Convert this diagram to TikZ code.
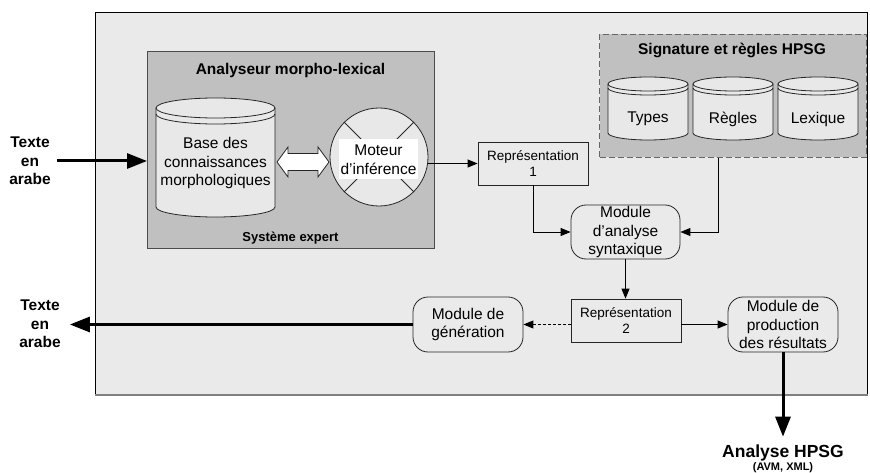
\documentclass[tikz,border=0pt]{standalone}
\usepackage{fontspec}
\setmainfont{Liberation Sans}
\usetikzlibrary{arrows.meta,calc}
\definecolor{bglight}{HTML}{EAEAEA}
\definecolor{boxgray}{HTML}{C0C0C0}
\definecolor{cylfill}{HTML}{E8E8E8}
\newcommand{\dbcyl}[6]{%
  \filldraw[draw=black!85, line width=0.8pt, fill=cylfill] (#1,#3-#5) -- (#1,#4+#5)
    arc[start angle=180,end angle=360,x radius=#2/2-#1/2,y radius=#5] -- (#2,#3-#5)
    arc[start angle=0,end angle=180,x radius=#2/2-#1/2,y radius=#5] -- cycle;
  \draw[black!85, line width=0.8pt] (#1,#3-#5) arc[start angle=180,end angle=360,x radius=#2/2-#1/2,y radius=#5];
  \draw[black!85, line width=0.8pt] (#1,#3-#5-#6) arc[start angle=180,end angle=360,x radius=#2/2-#1/2,y radius=#5];
}
\tikzset{
  main/.style={font=\fontsize{15.5}{18.5}\selectfont},
  reptext/.style={font=\fontsize{13.5}{16.5}\selectfont},
  repbox/.style={draw=black!85, line width=0.8pt, fill=bglight, minimum width=110pt, minimum height=43pt, inner sep=0pt, align=center, reptext},
  modbox/.style={draw=black!85, line width=0.8pt, fill=bglight, rounded corners=15pt, minimum width=110pt, minimum height=55pt, inner sep=0pt, align=center, main},
  thinarrow/.style={-{Triangle[length=10pt,width=8pt]}, line width=0.9pt},
  thickarrow/.style={-{Triangle[length=20pt,width=15pt]}, line width=3pt},
  lab/.style={font=\bfseries\fontsize{15.5}{18.5}\selectfont, align=center, inner sep=0pt},
}
\begin{document}
\begin{tikzpicture}[x=1pt,y=1pt]
\useasboundingbox (0,0) rectangle (870,472);
% outer frame
\node[draw=black, line width=0.8pt, fill=bglight, minimum width=772pt, minimum height=382pt, inner sep=0pt, anchor=south west] (outer) at (95,77) {};
\draw[gray, line width=1.5pt] (outer.south west) -- (outer.south east);

% Analyseur morpho-lexical
\node[draw=black!70, line width=0.8pt, fill=boxgray, anchor=south west, minimum width=287pt, minimum height=197pt, inner sep=0pt] (ana) at (147,223) {};
\node[lab] (anatitle) at (290.5,402) {Analyseur morpho-lexical};
\node[font=\bfseries\fontsize{13}{15}\selectfont, inner sep=0pt] (sysexp) at (290.5,234) {Système expert};

\dbcyl{156}{275}{374}{255}{10}{6}
\node[main, align=center, inner sep=0pt] (base) at (215.5,309) {Base des\\connaissances\\morphologiques};

\node[circle, draw=black!85, line width=0.8pt, fill=cylfill, minimum size=98pt, inner sep=0pt] (moteur) at (379,315) {};
\draw[black!85, line width=0.8pt] (moteur.45) -- (moteur.225);
\draw[black!85, line width=0.8pt] (moteur.135) -- (moteur.315);
\node[fill=white, main, align=center, minimum width=79pt, minimum height=40pt, inner sep=0pt] (motlab) at (378.5,312.5) {Moteur\\d’inférence};

% hollow double arrow
\draw[fill=white, draw=black!85, line width=0.8pt] (277,310) -- (288,325) -- (288,318.5) -- (318,318.5) -- (318,325) -- (329,310) -- (318,295) -- (318,301.5) -- (288,301.5) -- (288,295) -- cycle;

% Représentation 1
\node[repbox] (rep1) at (533,308.5) {Représentation\\1};
\draw[thinarrow] (moteur.east |- rep1.west) -- (rep1.west);

% Module d'analyse syntaxique
\node[modbox, minimum width=109pt, minimum height=54pt] (modana) at (625.5,240) {Module\\d’analyse\\syntaxique};
\draw[thinarrow] (rep1.south) |- (modana.west);

% Signature et règles HPSG
\node[draw=black!60, dash pattern=on 6pt off 3pt, line width=1pt, fill=boxgray, anchor=south west, minimum width=267pt, minimum height=123pt, inner sep=0pt] (sig) at (599,314) {};
\node[lab] (sigtitle) at (732,422) {Signature et règles HPSG};
\dbcyl{608}{688}{395}{332}{7}{4}
\dbcyl{693}{773}{395}{332}{7}{4}
\dbcyl{778}{858}{395}{332}{7}{4}
\node[main, inner sep=0pt] (types) at (648,353) {Types};
\node[main, inner sep=0pt] (regles) at (733,353) {Règles};
\node[main, inner sep=0pt] (lexique) at (818,353) {Lexique};
\coordinate (sigout) at (718,314);
\draw[thinarrow] (sigout) |- (modana.east);

% Représentation 2
\node[repbox] (rep2) at (626,151.5) {Représentation\\2};
\draw[thinarrow] (modana.south) -- (modana.south |- rep2.north);

% Génération / production
\node[modbox] (gen) at (468,147.5) {Module de\\génération};
\node[modbox] (prod) at (783,147.5) {Module de\\production\\des résultats};
\draw[thinarrow, dash pattern=on 3pt off 2pt] (rep2.west |- gen.east) -- (gen.east);
\draw[thinarrow] (rep2.east |- prod.west) -- (prod.west);

% inputs / outputs
\node[lab] (inlab) at (30,311) {Texte\\en\\arabe};
\draw[thickarrow] ([xshift=6pt]inlab.east) -- (inlab.east -| ana.west);
\node[lab] (outlab) at (40,148) {Texte\\en\\arabe};
\draw[thickarrow] (gen.west) -- ([xshift=9pt]outlab.east |- gen.west);

\node[font=\bfseries\fontsize{17.5}{20}\selectfont, inner sep=0pt] (hpsg) at (783,19) {Analyse HPSG};
\node[font=\bfseries\fontsize{11}{13}\selectfont, inner sep=0pt] (avm) at (783,4) {(AVM, XML)};
\draw[thickarrow] (prod.south) -- ([yshift=8pt]hpsg.north);
\end{tikzpicture}
\end{document}
